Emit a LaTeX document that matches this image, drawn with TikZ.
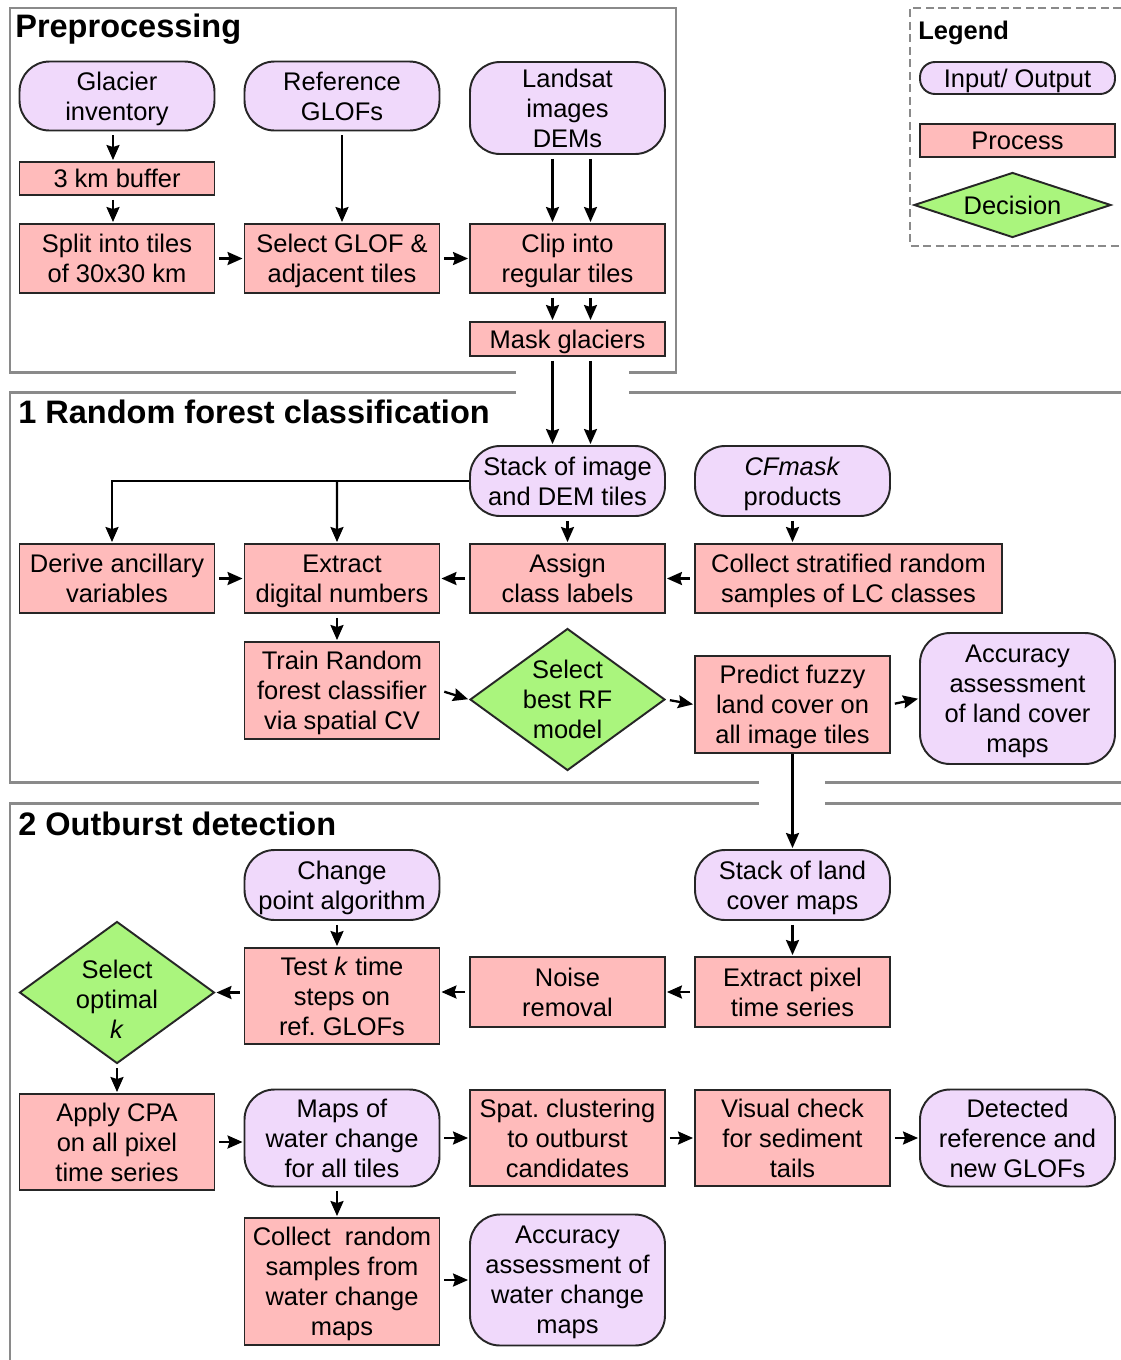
\documentclass[tikz,border=0pt]{standalone}
\usepackage{fontspec}
\setmainfont{Liberation Sans}
\usepackage{xcolor}
\usetikzlibrary{shapes.geometric,arrows.meta}
\definecolor{ioFill}{RGB}{240,217,251}
\definecolor{procFill}{RGB}{255,187,187}
\definecolor{decFill}{RGB}{170,245,125}
\definecolor{frameGray}{RGB}{138,138,138}
\frenchspacing

\begin{document}
\begin{tikzpicture}[x=0.02cm,y=-0.02cm,
  every node/.style={font=\fontsize{14.5}{17}\selectfont},
  io/.style={draw=black!85,fill=ioFill,rounded corners=0.6cm,line width=1.1pt,
             minimum width=3.9cm,minimum height=1.38cm,align=center,inner sep=1pt,
             text depth=0pt},
  proc/.style={draw=black!85,fill=procFill,line width=1.1pt,
               minimum width=3.9cm,minimum height=1.38cm,align=center,inner sep=1pt,
               text depth=0pt},
  dec/.style={draw=black!85,fill=decFill,diamond,line width=1.1pt,
              minimum width=3.9cm,minimum height=2.84cm,inner sep=0pt},
  dtext/.style={align=center},
  title/.style={anchor=west,inner sep=0pt,font=\fontsize{18.5}{22}\selectfont\bfseries},
  frame/.style={draw=frameGray,line width=1.7pt},
  arr/.style={-{Stealth[length=0.3cm,width=0.26cm,inset=0.04cm]},line width=1.3pt,
              shorten <=0.08cm,shorten >=0.02cm}
]
\useasboundingbox (0,0) rectangle (1121,1360);

% section frames
\draw[frame] (516,372) -- (10,372) -- (10,8) -- (676,8) -- (676,372) -- (629,372);
\draw[frame] (516,392) -- (10,392) -- (10,782) -- (759,782);
\draw[frame] (629,392) -- (1121,392);
\draw[frame] (825,782) -- (1121,782);
\draw[frame] (759,803) -- (10,803) -- (10,1362);
\draw[frame] (825,803) -- (1121,803);
\draw[frame,line width=1.4pt,dash pattern=on 0.16cm off 0.09cm]
  (1121,8) -- (910,8) -- (910,246) -- (1121,246);

\node[title] (tpre) at (15,29) {Preprocessing};
\node[title] (trf) at (18,412) {1 Random forest classification};
\node[title] (tod) at (18,824) {2 Outburst detection};

% legend
\node[title,font=\fontsize{14.5}{17}\selectfont\bfseries] (tleg) at (918,33) {Legend};
\node[io,rounded corners=0.3cm,minimum height=0.64cm] (lgio) at (1017.5,78) {Input/ Output};
\node[proc,minimum height=0.66cm] (lgproc) at (1017.5,140.5) {Process};
\node[dec,minimum width=3.94cm,minimum height=1.3cm,label={[dtext]center:Decision}] (lgdec) at (1012.5,205) {};

% preprocessing
\node[io] (glac) at (117,96) {Glacier\\inventory};
\node[io] (refg) at (342,96) {Reference\\GLOFs};
\node[io,minimum height=1.84cm] (land) at (567.5,108) {Landsat\\images\\DEMs};
\node[proc,minimum height=0.66cm] (buff) at (117,178.5) {3 km buffer};
\node[proc] (split) at (117,258.5) {Split into tiles\\of 30x30 km};
\node[proc] (selg) at (342,258.5) {Select GLOF \&\\adjacent tiles};
\node[proc] (clip) at (567.5,258.5) {Clip into\\regular tiles};
\node[proc,minimum height=0.68cm] (mask) at (567.5,339) {Mask glaciers};

\draw[arr] ([xshift=-0.08cm]glac.south) -- ([xshift=-0.08cm]buff.north);
\draw[arr] ([xshift=-0.08cm]buff.south) -- ([xshift=-0.08cm]split.north);
\draw[arr] (refg) -- (selg);
\draw[arr] (split) -- (selg);
\draw[arr] (selg) -- (clip);
\draw[arr] ([xshift=-0.3cm]land.south) -- ([xshift=-0.3cm]clip.north);
\draw[arr] ([xshift=0.46cm]land.south) -- ([xshift=0.46cm]clip.north);
\draw[arr] ([xshift=-0.3cm]clip.south) -- ([xshift=-0.3cm]mask.north);
\draw[arr] ([xshift=0.46cm]clip.south) -- ([xshift=0.46cm]mask.north);

% random forest classification
\node[io,minimum height=1.4cm] (stk) at (567.5,481) {Stack of image\\and DEM tiles};
\node[io,minimum height=1.4cm] (cfm) at (792.5,481) {\textit{CFmask}\\products};
\node[proc] (deriv) at (117,578.5) {Derive ancillary\\variables};
\node[proc] (extr) at (342,578.5) {Extract\\digital numbers};
\node[proc] (assg) at (567.5,578.5) {Assign\\class labels};
\node[proc,minimum width=6.14cm] (coll) at (848.5,578.5) {Collect stratified random\\samples of LC classes};
\node[proc,minimum height=1.94cm] (train) at (342,690.5) {Train Random\\forest classifier\\via spatial CV};
\node[dec,label={[dtext]center:Select\\best RF\\model}] (best) at (567.5,699.5) {};
\node[proc,minimum height=1.94cm] (pred) at (792.5,704.5) {Predict fuzzy\\land cover on\\all image tiles};
\node[io,minimum height=2.62cm] (accl) at (1017.5,698.5) {Accuracy\\assessment\\of land cover\\maps};

\draw[arr] ([xshift=-0.3cm]mask.south) -- ([xshift=-0.3cm]stk.north);
\draw[arr] ([xshift=0.46cm]mask.south) -- ([xshift=0.46cm]stk.north);
\draw[arr,shorten <=0pt] (stk.west) -| ([xshift=-0.1cm]deriv.north);
\draw[arr,shorten <=0pt] (stk.west -| extr.north) ++(-5,0) -- ([xshift=-0.1cm]extr.north);
\draw[arr] (stk) -- (assg);
\draw[arr] (cfm) -- (cfm |- coll.north);
\draw[arr] (deriv) -- (extr);
\draw[arr] (assg) -- (extr);
\draw[arr] (coll.west) -- (assg.east);
\draw[arr] ([xshift=-0.1cm]extr.south) -- ([xshift=-0.1cm]train.north);
\draw[arr] (train.east) -- (best.west);
\draw[arr] (best.east) -- (pred.west);
\draw[arr] (pred.east) -- (accl.west);

% outburst detection
\node[io,minimum height=1.4cm] (cpa) at (342,885) {Change\\point algorithm};
\node[io,minimum height=1.4cm] (stlc) at (792.5,885) {Stack of land\\cover maps};
\node[dec,label={[dtext,yshift=-0.14cm]center:Select\\optimal\\\textit{k}}] (optk) at (117,992.5) {};
\node[proc,minimum height=1.92cm] (testk) at (342,996) {Test \textit{k} time\\steps on\\ref. GLOFs};
\node[proc,minimum height=1.4cm] (noise) at (567.5,992) {Noise\\removal};
\node[proc,minimum height=1.4cm] (expx) at (792.5,992) {Extract pixel\\time series};
\node[proc,minimum height=1.92cm] (apply) at (117,1142) {Apply CPA\\on all pixel\\time series};
\node[io,minimum height=1.94cm] (wmap) at (342,1138) {Maps of\\water change\\for all tiles};
\node[proc,minimum height=1.92cm] (spat) at (567.5,1138) {Spat. clustering\\to outburst\\candidates};
\node[proc,minimum height=1.92cm] (visu) at (792.5,1138) {Visual check\\for sediment\\tails};
\node[io,minimum height=1.94cm] (detg) at (1017.5,1138) {Detected\\reference and\\new GLOFs};
\node[proc,minimum height=2.54cm] (colr) at (342,1281.5) {Collect\ \ random\\samples from\\water change\\maps};
\node[io,minimum height=2.62cm] (accw) at (567.5,1280) {Accuracy\\assessment of\\water change\\maps};

\draw[arr,shorten <=0pt] (pred) -- (stlc);
\draw[arr] ([xshift=-0.1cm]cpa.south) -- ([xshift=-0.1cm]testk.north);
\draw[arr] (stlc) -- (expx);
\draw[arr] (expx) -- (noise);
\draw[arr] (noise.west) -- (noise.west -| testk.east);
\draw[arr] (testk.west |- optk.east) -- (optk.east);
\draw[arr] (optk.south) -- (apply.north);
\draw[arr] (apply.east) -- (apply.east -| wmap.west);
\draw[arr] (wmap) -- (spat);
\draw[arr] (spat) -- (visu);
\draw[arr] (visu) -- (detg);
\draw[arr] ([xshift=-0.1cm]wmap.south) -- ([xshift=-0.1cm]colr.north);
\draw[arr] (colr.east |- accw.center) -- (accw.west);
\end{tikzpicture}
\end{document}
